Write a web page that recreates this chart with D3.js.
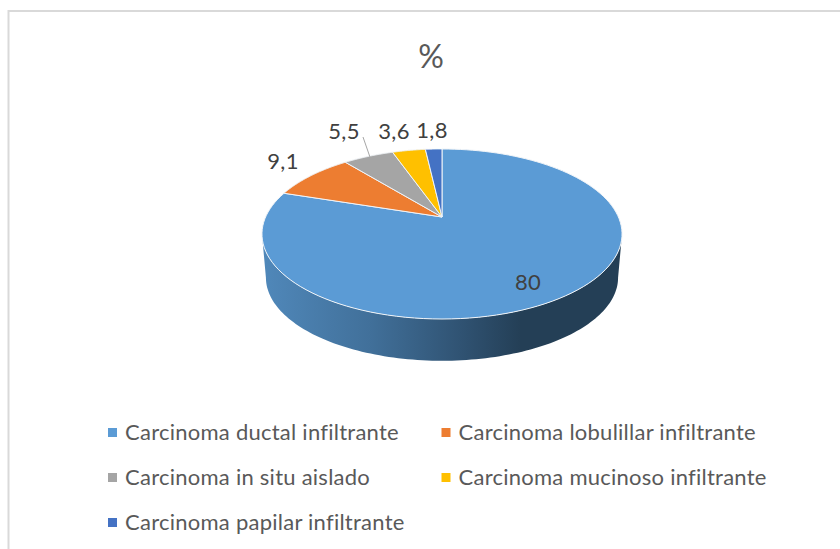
<!DOCTYPE html>
<html>
<head>
<meta charset="utf-8">
<script src="https://cdnjs.cloudflare.com/ajax/libs/d3/7.8.5/d3.min.js"></script>
<style>
  html, body { margin: 0; padding: 0; background: #fff; }
  svg { display: block; }
  text { font-family: Lato, "Open Sans", sans-serif; }
</style>
</head>
<body>
<div id="container"></div>
<script>
/* DATA */
const categories = [
  "Carcinoma ductal infiltrante",
  "Carcinoma lobulillar infiltrante",
  "Carcinoma in situ aislado",
  "Carcinoma mucinoso infiltrante",
  "Carcinoma papilar infiltrante"
];
const values = [80, 9.1, 5.5, 3.6, 1.8];
const valueLabels = ["80", "9,1", "5,5", "3,6", "1,8"];
const colors = ["#5b9bd5", "#ed7d31", "#a5a5a5", "#ffc000", "#4472c4"];

/* LAYOUT */
const width = 840, height = 549;
const cx = 442, cy = 217;        // where the slices meet
const rimX = 176.4, rimY = 81.6; // disc size before perspective
const tilt = 0.2;                // perspective strength
const depth = 44, shrink = 0.978; // bottom disc of the pie

// where each value label sits, same order as values
const labelX = [528, 283, 344, 394, 432];
const labelY = [290, 169, 139, 139, 138];
const legendX = [112.5, 446, 112.5, 446, 112.5];
const legendY = [432.5, 432.5, 477.5, 477.5, 522.5];

const svg = d3.select("#container")
  .append("svg")
  .attr("width", width)
  .attr("height", height)
  .style("background-color", "#fff");

// chart frame, right and bottom edges fall outside the picture
svg.append("path")
  .attr("d", `M8.5,${height}V11H${width}`)
  .attr("fill", "none")
  .attr("stroke", "#d9d9d9")
  .attr("stroke-width", 2);

svg.append("text")
  .attr("x", 431)
  .attr("y", 68)
  .attr("text-anchor", "middle")
  .attr("font-size", 32)
  .attr("fill", "#595959")
  .text("%");

/* PROJECTION: angle on the disc to a point on the page */
function project(a, r = 1, s = 1, dy = 0) {
  const X = r * Math.sin(a), Y = -r * Math.cos(a);
  const w = 1 - tilt * Y;
  return [cx + s * rimX * X / w, cy + dy + s * rimY * Y / w];
}

const pie = d3.pie().sort(null).value(d => d)(values);
const line = d3.line();
const steps = a => d3.range(0, 121).map(i => i / 120).map(d3.interpolateNumber(a[0], a[1]));

/* SIDE WALL */
const defs = svg.append("defs");
const grad = defs.append("linearGradient")
  .attr("id", "wall")
  .attr("gradientUnits", "userSpaceOnUse")
  .attr("x1", 262).attr("x2", 622).attr("y1", 0).attr("y2", 0);
grad.append("stop").attr("offset", "0%").attr("stop-color", "#5088ba");
grad.append("stop").attr("offset", "30%").attr("stop-color", "#41709a");
grad.append("stop").attr("offset", "55%").attr("stop-color", "#305373");
grad.append("stop").attr("offset", "72%").attr("stop-color", "#243f56");
grad.append("stop").attr("offset", "100%").attr("stop-color", "#243f56");

// tangent angles of the rim, left and right side of the front half
const tangent = Math.acos(-tilt);
const front = steps([tangent, 2 * Math.PI - tangent]);
const wallPoints = front.map(a => project(a))
  .concat(front.slice().reverse().map(a => project(a, 1, shrink, depth)));
svg.append("path")
  .attr("d", line(wallPoints) + "Z")
  .attr("fill", "url(#wall)");

/* SLICES */
svg.selectAll(".slice")
  .data(pie)
  .join("path")
  .attr("class", "slice")
  .attr("d", d => line([[cx, cy]].concat(steps([d.startAngle, d.endAngle]).map(a => project(a)))) + "Z")
  .attr("fill", (d, i) => colors[i])
  .attr("stroke", "#f0f4f8")
  .attr("stroke-width", 1)
  .attr("stroke-linejoin", "round");

/* LEADER LINE for the 5,5 label */
const mid = (pie[2].startAngle + pie[2].endAngle) / 2;
const tip = project(mid, 0.97);
svg.append("line")
  .attr("x1", tip[0]).attr("y1", tip[1])
  .attr("x2", 363).attr("y2", 137)
  .attr("stroke", "#a6a6a6")
  .attr("stroke-width", 1);

/* VALUE LABELS */
svg.selectAll(".value")
  .data(valueLabels)
  .join("text")
  .attr("class", "value")
  .attr("x", (d, i) => labelX[i])
  .attr("y", (d, i) => labelY[i])
  .attr("text-anchor", "middle")
  .attr("font-size", 22)
  .attr("letter-spacing", 0.3)
  .attr("fill", "#404040")
  .text(d => d);

/* LEGEND */
const legend = svg.selectAll(".legend")
  .data(categories)
  .join("g")
  .attr("class", "legend")
  .attr("transform", (d, i) => `translate(${legendX[i]},${legendY[i]})`);

legend.append("rect")
  .attr("x", -4.5).attr("y", -4.5)
  .attr("width", 9).attr("height", 9)
  .attr("fill", (d, i) => colors[i]);

legend.append("text")
  .attr("x", 12.5)
  .attr("y", 7.5)
  .attr("font-size", 22)
  .attr("letter-spacing", 0.25)
  .attr("fill", "#595959")
  .text(d => d);
</script>
</body>
</html>
